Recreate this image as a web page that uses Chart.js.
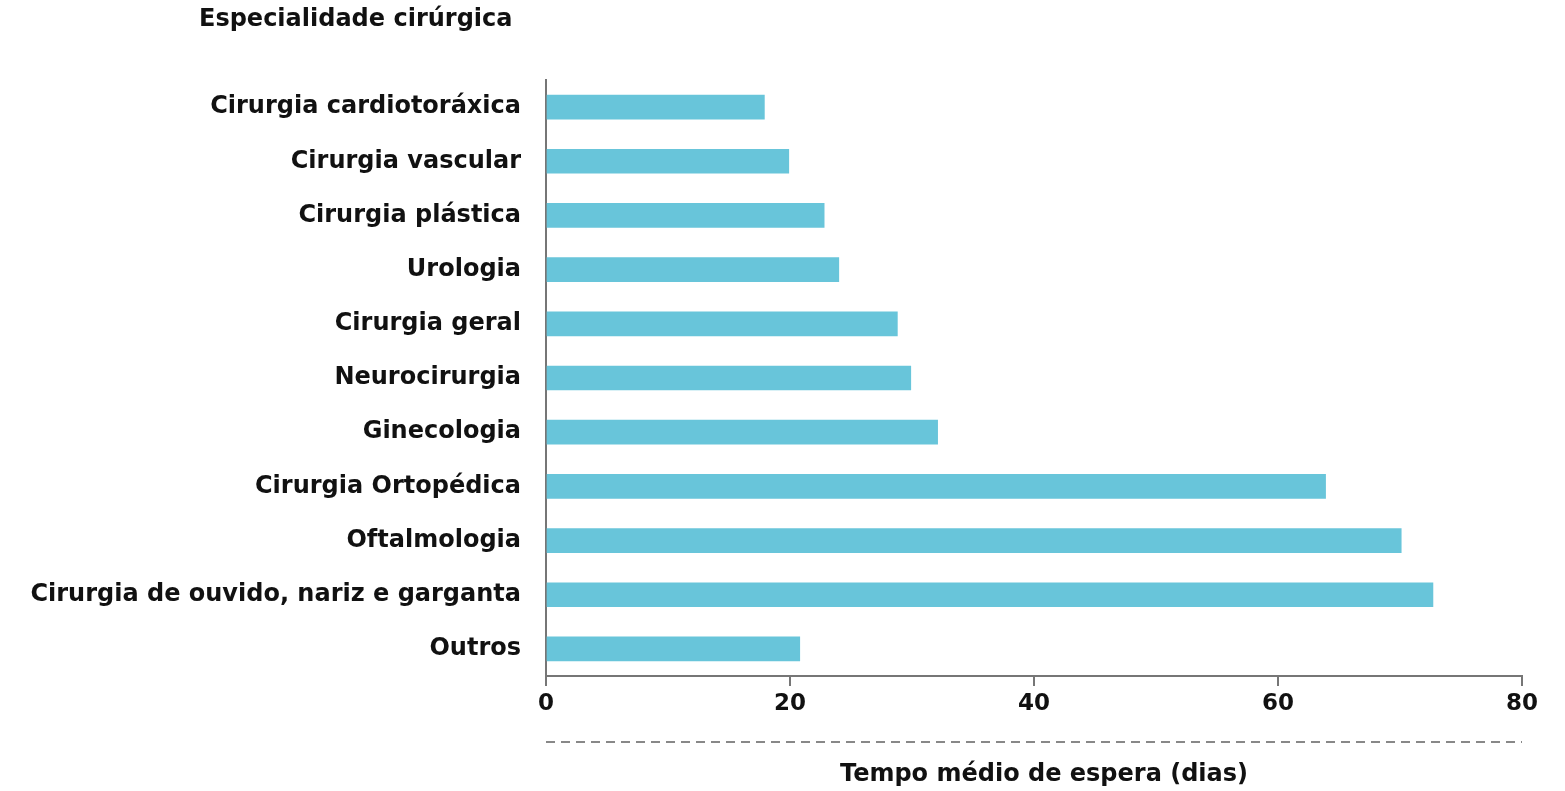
<!DOCTYPE html>
<html>
<head>
<meta charset="utf-8">
<script src="https://cdn.jsdelivr.net/npm/chart.js@4/dist/chart.umd.min.js"></script>
<style>
  html, body { margin: 0; padding: 0; background: #fff; }
  #wrap { width: 1565px; height: 791px; }
</style>
</head>
<body>
<div id="wrap"><canvas id="chart"></canvas></div>
<script>
const specialties = [
  'Cirurgia cardiotoráxica',
  'Cirurgia vascular',
  'Cirurgia plástica',
  'Urologia',
  'Cirurgia geral',
  'Neurocirurgia',
  'Ginecologia',
  'Cirurgia Ortopédica',
  'Oftalmologia',
  'Cirurgia de ouvido, nariz e garganta',
  'Outros'
];
const waitDays = [17.9, 19.9, 22.8, 24.0, 28.8, 29.9, 32.1, 63.9, 70.1, 72.7, 20.8];
const xTicks = [0, 20, 40, 60, 80];

const yTitle = 'Especialidade cirúrgica';
const xTitle = 'Tempo médio de espera (dias)';

const FONT = '"DejaVu Sans", sans-serif';
const AXIS = '#767676';

// titles + dashed line under the x tick labels
const extras = {
  id: 'extras',
  afterDraw(chart) {
    const ctx = chart.ctx;
    const area = chart.chartArea;
    ctx.save();
    ctx.fillStyle = '#111';
    ctx.font = 'bold 24px ' + FONT;
    ctx.textBaseline = 'middle';
    ctx.textAlign = 'left';
    ctx.fillText(yTitle, 199, 20);

    ctx.strokeStyle = '#888';
    ctx.lineWidth = 2;
    ctx.setLineDash([9, 6]);
    ctx.beginPath();
    ctx.moveTo(area.left, 742);
    ctx.lineTo(area.right, 742);
    ctx.stroke();
    ctx.setLineDash([]);

    ctx.textAlign = 'center';
    ctx.fillText(xTitle, 1044, 775);
    ctx.restore();
  }
};

new Chart(document.getElementById('chart'), {
  type: 'bar',
  data: {
    labels: specialties,
    datasets: [{
      data: waitDays,
      backgroundColor: '#68c5da',
      barThickness: 24
    }]
  },
  options: {
    indexAxis: 'y',
    responsive: true,
    maintainAspectRatio: false,
    animation: false,
    layout: { padding: { top: 80, right: 43, left: 0, bottom: 0 } },
    plugins: { legend: { display: false }, tooltip: { enabled: false } },
    scales: {
      x: {
        min: 0,
        max: 80,
        afterFit(scale) { scale.height = 115; },
        afterBuildTicks(scale) { scale.ticks = xTicks.map(v => ({ value: v })); },
        border: { display: true, color: AXIS, width: 2 },
        grid: { display: true, drawOnChartArea: false, drawTicks: true, tickLength: 10, color: AXIS, lineWidth: 2 },
        ticks: {
          color: '#111',
          padding: 4,
          maxRotation: 0,
          font: { family: FONT, size: 23, weight: 'bold' }
        }
      },
      y: {
        afterFit(scale) { scale.width = 546; },
        border: { display: true, color: AXIS, width: 2 },
        grid: { display: false, drawTicks: false },
        ticks: {
          color: '#111',
          padding: 25,
          font: { family: FONT, size: 24, weight: 'bold' }
        }
      }
    }
  },
  plugins: [extras]
});
</script>
</body>
</html>
